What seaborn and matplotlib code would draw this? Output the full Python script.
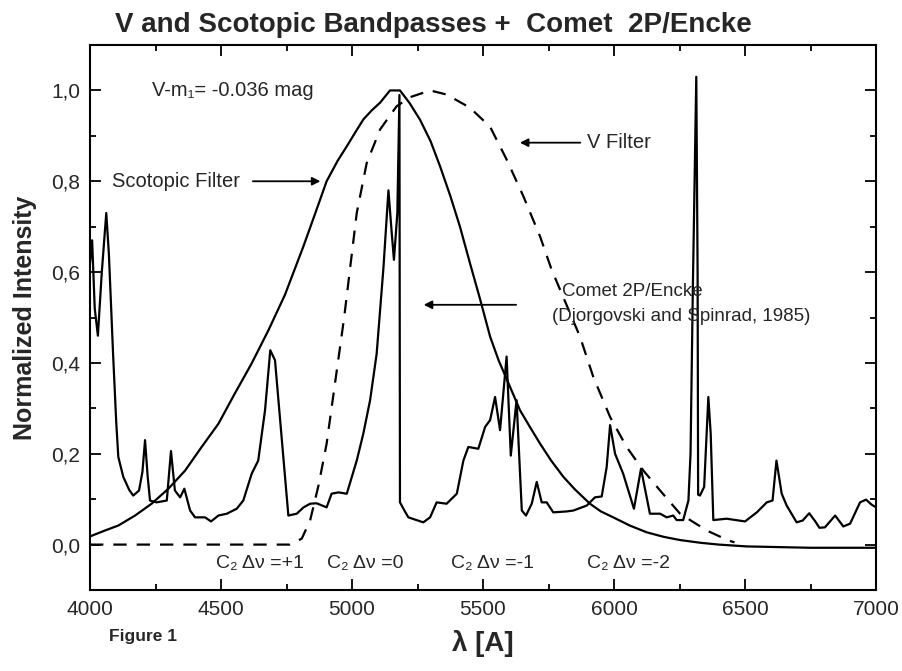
import matplotlib
matplotlib.use("Agg")
import matplotlib.pyplot as plt
from matplotlib.ticker import MultipleLocator
import numpy as np
import pandas as pd
import seaborn as sns

# Comet 2P/Encke spectrum (normalized)
comet_wl = [4000, 4008, 4018, 4030, 4045, 4062, 4072, 4088, 4100, 4108, 4127, 4150,
            4165, 4187, 4200, 4210, 4220, 4229, 4254, 4293, 4309, 4324, 4344, 4360,
            4382, 4401, 4439, 4462, 4490, 4522, 4560, 4585, 4617, 4642, 4668, 4688,
            4706, 4757, 4789, 4815, 4840, 4865, 4903, 4922, 4948, 4980, 5018, 5043,
            5069, 5094, 5120, 5139, 5151, 5160, 5173, 5181, 5183, 5200, 5215, 5272,
            5298, 5323, 5361, 5400, 5425, 5444, 5482, 5508, 5527, 5546, 5565, 5590,
            5606, 5628, 5648, 5664, 5686, 5705, 5724, 5743, 5768, 5819, 5845, 5896,
            5927, 5953, 5972, 5985, 6004, 6035, 6076, 6103, 6137, 6176, 6201, 6226,
            6239, 6264, 6284, 6292, 6301, 6314, 6319, 6321, 6328, 6344, 6360, 6369,
            6379, 6430, 6500, 6545, 6583, 6605, 6620, 6640, 6659, 6697, 6720, 6745,
            6767, 6784, 6805, 6844, 6875, 6901, 6939, 6962, 6983, 7000]
comet_int = [0.62, 0.67, 0.52, 0.46, 0.60, 0.73, 0.64, 0.42, 0.27, 0.193, 0.149, 0.12,
             0.108, 0.119, 0.16, 0.23, 0.15, 0.097, 0.093, 0.097, 0.206, 0.119, 0.104, 0.123,
             0.075, 0.060, 0.060, 0.051, 0.064, 0.068, 0.079, 0.097, 0.156, 0.185, 0.296, 0.428,
             0.406, 0.064, 0.068, 0.082, 0.090, 0.091, 0.082, 0.112, 0.115, 0.112, 0.185, 0.244,
             0.318, 0.42, 0.61, 0.78, 0.69, 0.627, 0.73, 0.99, 0.093, 0.075, 0.06, 0.049,
             0.06, 0.093, 0.09, 0.112, 0.185, 0.215, 0.211, 0.259, 0.274, 0.325, 0.252, 0.414,
             0.196, 0.318, 0.075, 0.064, 0.09, 0.138, 0.093, 0.093, 0.071, 0.073, 0.075, 0.086,
             0.104, 0.106, 0.171, 0.263, 0.20, 0.156, 0.079, 0.167, 0.068, 0.068, 0.060, 0.064,
             0.054, 0.054, 0.097, 0.20, 0.57, 1.03, 0.60, 0.11, 0.108, 0.127, 0.325, 0.244,
             0.054, 0.057, 0.051, 0.071, 0.093, 0.097, 0.185, 0.112, 0.086, 0.049, 0.053, 0.069,
             0.052, 0.037, 0.038, 0.064, 0.040, 0.046, 0.093, 0.099, 0.088, 0.082]

# Scotopic eye response
scot_wl = [4000, 4057, 4108, 4172, 4235, 4299, 4363, 4426, 4490, 4553, 4617, 4681,
           4744, 4814, 4860, 4903, 4945, 4980, 5015, 5043, 5075, 5107, 5145, 5183,
           5220, 5260, 5300, 5336, 5375, 5412, 5450, 5489, 5527, 5560, 5590, 5641,
           5679, 5718, 5760, 5807, 5850, 5908, 5950, 5997, 6060, 6125, 6190, 6252,
           6330, 6400, 6506, 6750, 7000]
scot_int = [0.018, 0.031, 0.042, 0.064, 0.09, 0.123, 0.163, 0.215, 0.266, 0.333, 0.399, 0.472,
            0.55, 0.656, 0.73, 0.80, 0.845, 0.877, 0.91, 0.936, 0.956, 0.973, 1.0, 1.0,
            0.972, 0.935, 0.888, 0.833, 0.768, 0.70, 0.62, 0.54, 0.458, 0.405, 0.365, 0.296,
            0.259, 0.222, 0.185, 0.149, 0.122, 0.09, 0.073, 0.06, 0.042, 0.027, 0.017, 0.01,
            0.004, 0.0, -0.004, -0.007, -0.007]

# Johnson V bandpass
v_wl = [4000, 4763, 4808, 4840, 4872, 4903, 4935, 4970, 5018, 5056, 5107, 5170,
        5221, 5298, 5361, 5450, 5527, 5590, 5654, 5718, 5762, 5870, 5921, 5985,
        6048, 6112, 6176, 6252, 6354, 6437, 6460]
v_int = [0.0, 0.0, 0.013, 0.053, 0.13, 0.222, 0.355, 0.50, 0.73, 0.84, 0.914, 0.965,
         0.985, 1.0, 0.991, 0.962, 0.92, 0.848, 0.767, 0.678, 0.605, 0.458, 0.369, 0.281,
         0.215, 0.163, 0.119, 0.068, 0.031, 0.009, 0.005]

y_tick_values = [0.0, 0.2, 0.4, 0.6, 0.8, 1.0]
y_tick_labels = ["0,0", "0,2", "0,4", "0,6", "0,8", "1,0"]
x_tick_values = [4000, 4500, 5000, 5500, 6000, 6500, 7000]
x_tick_labels = ["4000", "4500", "5000", "5500", "6000", "6500", "7000"]

band_labels = ["C\u2082 \u0394\u03bd =+1", "C\u2082 \u0394\u03bd =0",
               "C\u2082 \u0394\u03bd =-1", "C\u2082 \u0394\u03bd =-2"]
band_label_x = [4480, 4905, 5378, 5898]

sns.set_style("ticks")
plt.rcParams["font.family"] = ["Liberation Sans", "DejaVu Sans"]
plt.rcParams["axes.linewidth"] = 1.5

fig = plt.figure(figsize=(9.02, 6.71), dpi=100)
ax = fig.add_axes([0.0998, 0.1207, 0.9712 - 0.0998, 0.9329 - 0.1207])

comet_df = pd.DataFrame({"wl": comet_wl, "I": comet_int})
scot_df = pd.DataFrame({"wl": scot_wl, "I": scot_int})
v_df = pd.DataFrame({"wl": v_wl, "I": v_int})

sns.lineplot(data=scot_df, x="wl", y="I", ax=ax, color="black", lw=1.6,
             estimator=None, sort=False)
sns.lineplot(data=v_df, x="wl", y="I", ax=ax, color="black", lw=1.6,
             estimator=None, sort=False, dashes=False)
ax.lines[-1].set_dashes([6, 4.5])
sns.lineplot(data=comet_df, x="wl", y="I", ax=ax, color="black", lw=1.6,
             estimator=None, sort=False)

ax.set_xlim(4000, 7000)
ax.set_ylim(-0.1, 1.1)
ax.set_xticks(x_tick_values)
ax.set_xticklabels(x_tick_labels, fontsize=15)
ax.set_yticks(y_tick_values)
ax.set_yticklabels(y_tick_labels, fontsize=15)
ax.xaxis.set_minor_locator(MultipleLocator(250))
ax.yaxis.set_minor_locator(MultipleLocator(0.1))
ax.tick_params(which="both", direction="in", top=True, right=True, color="black",
               width=1.3)
ax.tick_params(which="major", length=8, pad=7)
ax.tick_params(which="minor", length=4.5)
for s in ax.spines.values():
    s.set_color("black")
    s.set_linewidth(1.5)

ax.set_xlabel("")
ax.set_ylabel("Normalized Intensity", fontsize=18, fontweight="bold", labelpad=10)
fig.text(0.5355, 0.041, "\u03bb [A]", ha="center", va="center", fontsize=20,
         fontweight="bold")
fig.text(0.121, 0.051, "Figure 1", ha="left", va="center", fontsize=12.5,
         fontweight="bold")
fig.text(0.127, 0.963, "V and Scotopic Bandpasses +  Comet  2P/Encke", ha="left",
         va="center", fontsize=20, fontweight="bold")

ax.text(4235, 1.0, "V-m\u2081= -0.036 mag", ha="left", va="center", fontsize=14.5)
ax.text(4084, 0.8, "Scotopic Filter", ha="left", va="center", fontsize=14.5)
ax.annotate("", xy=(4890, 0.8), xytext=(4611, 0.8),
            arrowprops=dict(arrowstyle="-|>", color="black", lw=1.3, mutation_scale=12))
ax.text(5897, 0.885, "V Filter", ha="left", va="center", fontsize=14.5)
ax.annotate("", xy=(5630, 0.885), xytext=(5882, 0.885),
            arrowprops=dict(arrowstyle="-|>", color="black", lw=1.3, mutation_scale=12))
ax.text(5802, 0.557, "Comet 2P/Encke", ha="left", va="center", fontsize=13.5)
ax.text(5763, 0.502, "(Djorgovski and Spinrad, 1985)", ha="left", va="center",
        fontsize=13.5)
ax.annotate("", xy=(5263, 0.528), xytext=(5637, 0.528),
            arrowprops=dict(arrowstyle="-|>", color="black", lw=1.3, mutation_scale=12))

for lbl, xpos in zip(band_labels, band_label_x):
    ax.text(xpos, -0.042, lbl, ha="left", va="center", fontsize=14)

fig.savefig("out.png", dpi=100)
